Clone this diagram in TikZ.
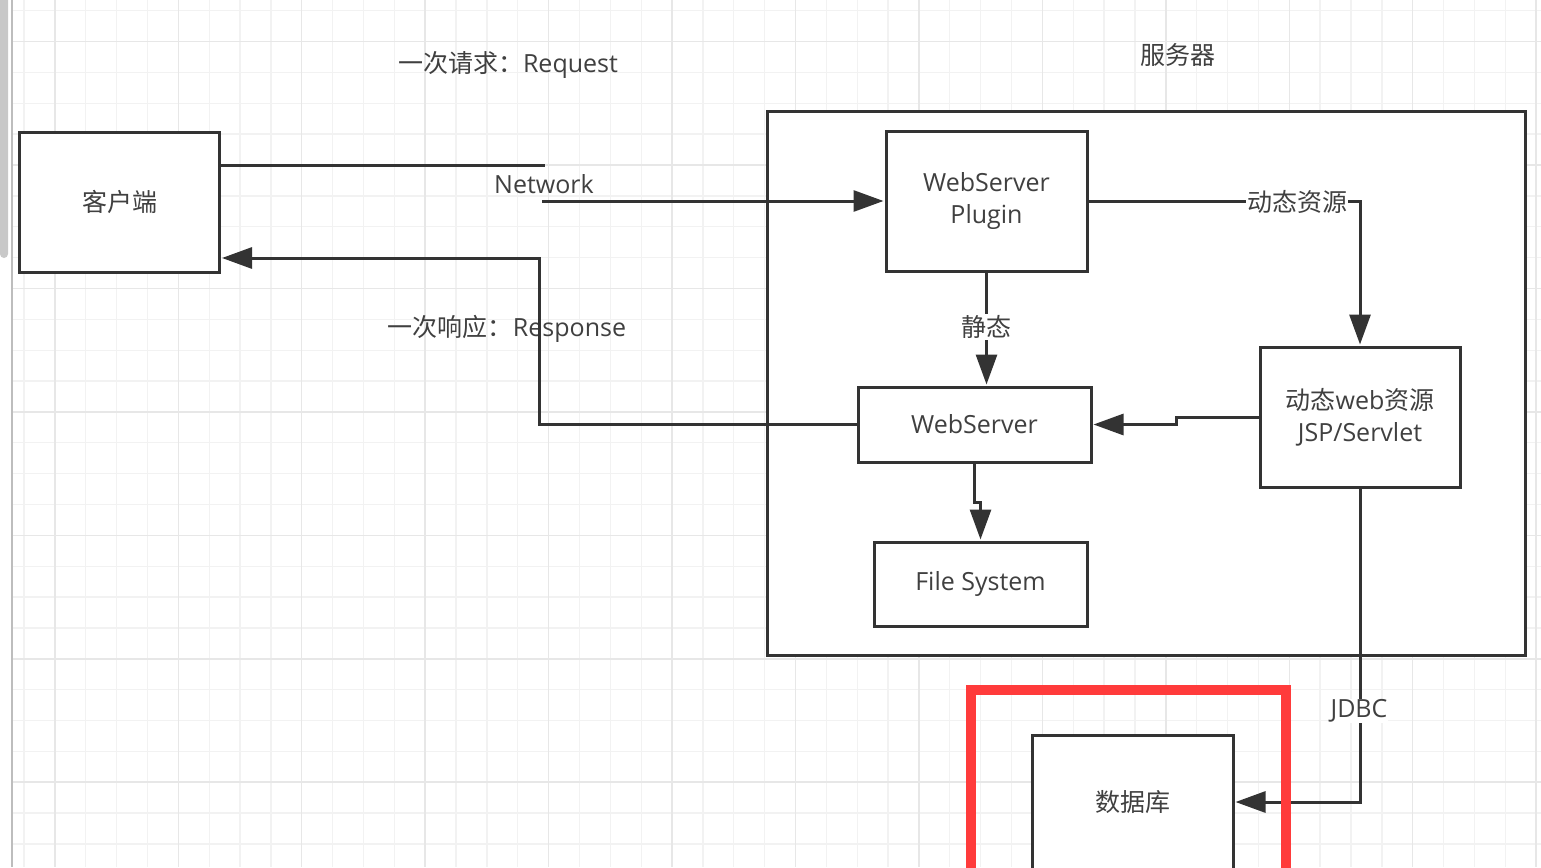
\documentclass[tikz,border=0pt]{standalone}
\usepackage{fontspec}
\setmainfont{Open Sans}
\newfontfamily\cjk{Noto Sans CJK SC}
\usetikzlibrary{arrows.meta}
\definecolor{ink}{HTML}{333333}
\definecolor{txt}{HTML}{404040}
\definecolor{gridminor}{HTML}{F2F2F2}
\definecolor{gridmajor}{HTML}{E7E7E7}
\definecolor{redmark}{HTML}{FF3B3B}
\definecolor{scroll}{HTML}{C8C8C8}
\definecolor{edge}{HTML}{BDBDBD}
\begin{document}
\begin{tikzpicture}[x=1pt,y=-1pt,
  box/.style={draw=ink,line width=3pt,fill=white,inner sep=0pt,font=\fontsize{25}{32}\selectfont,text=txt,align=center},
  lbl/.style={inner sep=1pt,font=\fontsize{25}{30}\selectfont,text=txt},
  lblw/.style={lbl,fill=white},
  conn/.style={draw=ink,line width=3pt},
  arr/.style={conn,-{Triangle[length=30pt,width=21pt]},shorten >=1pt},
  gmin/.style={draw=gridminor,line width=1.3pt},
  gmaj/.style={draw=gridmajor,line width=1.5pt},
]
\useasboundingbox (0,0) rectangle (1541,867);
\clip (0,0) rectangle (1541,867);
\fill[white] (0,0) rectangle (1541,867);
% grid
\foreach \k in {0,...,49}{\pgfmathsetmacro\xx{24+30.86*\k}\draw[gmin] (\xx,0) -- (\xx,867);}
\foreach \k in {0,...,27}{\pgfmathsetmacro\yy{10.7+30.86*\k}\draw[gmin] (12,\yy) -- (1541,\yy);}
\foreach \k in {1,5,...,49}{\pgfmathsetmacro\xx{24+30.86*\k}\draw[gmaj] (\xx,0) -- (\xx,867);}
\foreach \k in {1,5,...,27}{\pgfmathsetmacro\yy{10.7+30.86*\k}\draw[gmaj] (12,\yy) -- (1541,\yy);}
\fill[white] (0,0) rectangle (11,867);
\fill[scroll,rounded corners=4pt] (0,-10) rectangle (8,258);
\draw[edge,line width=1.5pt] (12,0) -- (12,867);

% server frame
\node[draw=ink,line width=3pt,fill=white,inner sep=0pt,minimum width=758pt,minimum height=544pt] (server) at (1146,383) {};

% boxes
\node[box,minimum width=200pt,minimum height=140pt] (client) at (119.5,202) {{\cjk 客户端}};
\node[box,minimum width=201pt,minimum height=140pt] (plugin) at (986.5,201) {WebServer\\Plugin};
\node[box,minimum width=233pt,minimum height=75pt] (ws) at (974.5,424.5) {WebServer};
\node[box,minimum width=213pt,minimum height=84pt] (fs) at (980.5,584) {File System};
\node[box,minimum width=200pt,minimum height=140pt] (jsp) at (1360,417) {{\cjk 动态}web{\cjk 资源}\\JSP/Servlet};
\node[box,minimum width=201pt,minimum height=134pt] (db) at (1132.5,802) {{\cjk 数据库}};

% plain labels
\node[lbl] (req) at (508,65) {{\cjk 一次请求：}Request};
\node[lbl] (srv) at (1178,55) {{\cjk 服务器}};
\node[lbl] (net) at (544,184) {Network};
\node[lbl] (resp) at (507,329) {{\cjk 一次响应：}Response};

% connectors
\coordinate (n1) at (545,165);
\coordinate (n2) at (542,201);
\draw[conn] (client.east |- n1) -- (n1);
\draw[arr] (n2) -- (plugin.west);
\coordinate (r1) at (539,258);
\draw[arr] (ws.west) -| (r1) -- (client.east |- r1);
\draw[arr] (plugin.east) -| (jsp.north);
\draw[arr] (plugin.south) -- (plugin.south |- ws.north);
\coordinate (j1) at (1176,417);
\draw[arr] (jsp.west) -- (j1) |- (ws.east);
\coordinate (f1) at (974.5,502);
\draw[arr] (ws.south) -- (f1) -| (fs.north);
\draw[arr] (jsp.south) |- (db.east);

% labels on connectors
\node[lblw] (dyn) at (1297,202) {{\cjk 动态资源}};
\node[lblw] (sta) at (986.5,327) {{\cjk 静态}};
\node[lblw] (jdbc) at (1359,711) {JDBC};

% red highlight
\node[draw=redmark,line width=10pt,inner sep=0pt,minimum width=315pt,minimum height=300pt] (mark) at (1128.5,840) {};
\end{tikzpicture}
\end{document}
